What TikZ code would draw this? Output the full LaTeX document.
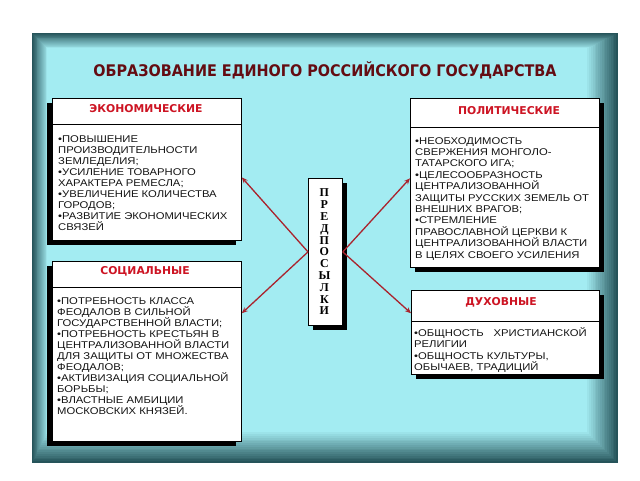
\documentclass[tikz,border=0pt]{standalone}
\usepackage{fontspec}
\setmainfont{Liberation Sans}
\newfontfamily\bodyf{Liberation Sans}[FakeStretch=1.15]
\newfontfamily\headf{DejaVu Sans}
\newfontfamily\titlef{DejaVu Sans}[FakeStretch=0.9]
\newfontfamily\serf{Liberation Serif}
\usetikzlibrary{shadows,calc,arrows.meta}
\definecolor{panelD}{RGB}{38,84,90}
\definecolor{panelL}{RGB}{163,236,242}
\definecolor{titleC}{RGB}{100,12,18}
\definecolor{headC}{RGB}{205,20,35}
\definecolor{arrC}{RGB}{170,35,45}
\definecolor{txtC}{RGB}{20,20,20}
\begin{document}
\begin{tikzpicture}[x=1pt,y=-1pt,
 box/.style={draw=black, line width=0.8pt, fill=white, inner sep=0pt, anchor=north west},
 shL/.style={drop shadow={shadow xshift=-5pt, shadow yshift=-5pt, opacity=1, fill=black}},
 shR/.style={drop shadow={shadow xshift=5pt, shadow yshift=-5pt, opacity=1, fill=black}},
 head/.style={font=\headf\bfseries\fontsize{10.8}{13}\selectfont, text=headC, inner sep=0pt},
 body/.style={font=\bodyf\fontsize{9.8}{11}\selectfont, text=txtC, align=left, anchor=north west, inner sep=0pt},
 arr/.style={draw=arrC, line width=1.3pt, -{Stealth[length=6pt,width=5pt]}},
 sepline/.style={draw=black, line width=0.6pt}]
\useasboundingbox (0,0) rectangle (640,480);
\fill[white] (0,0) rectangle (640,480);
% panel with darker edges
\foreach \i in {0,...,17} {
  \pgfmathsetmacro\t{100*\i/17}
  \fill[panelL!\t!panelD] (32+\i*0.9, 33+\i*0.9) rectangle (618-\i*1.8, 463-\i*1.8);
}
% title
\node[font=\titlef\bfseries\fontsize{16}{19}\selectfont, text=titleC] (title) at (325,70) {ОБРАЗОВАНИЕ ЕДИНОГО РОССИЙСКОГО ГОСУДАРСТВА};
% boxes
\node[box, shL, minimum width=189pt, minimum height=142pt] (econ) at (52,98) {};
\node[box, shL, minimum width=189pt, minimum height=180pt] (soc) at (52,261) {};
\node[box, shR, minimum width=189pt, minimum height=169pt] (pol) at (410,98) {};
\node[box, shR, minimum width=188pt, minimum height=84pt] (spir) at (411,290) {};
\node[box, shR, minimum width=34pt, minimum height=147pt] (pre) at (308,178) {};
% separators
\draw[sepline] ([yshift=-26pt]econ.north west) -- ([yshift=-26pt]econ.north east);
\draw[sepline] ([yshift=-26pt]soc.north west) -- ([yshift=-26pt]soc.north east);
\draw[sepline] ([yshift=-29pt]pol.north west) -- ([yshift=-29pt]pol.north east);
\draw[sepline] ([yshift=-31pt]spir.north west) -- ([yshift=-31pt]spir.north east);
% headers
\node[head] (econH) at (146,109) {ЭКОНОМИЧЕСКИЕ};
\node[head] (polH) at (509,111) {ПОЛИТИЧЕСКИЕ};
\node[head] (socH) at (145,271) {СОЦИАЛЬНЫЕ};
\node[head] (spirH) at (501,302) {ДУХОВНЫЕ};
% bodies
\node[body] (econB) at (58,135) {•ПОВЫШЕНИЕ\\ПРОИЗВОДИТЕЛЬНОСТИ\\ЗЕМЛЕДЕЛИЯ;\\•УСИЛЕНИЕ ТОВАРНОГО\\ХАРАКТЕРА РЕМЕСЛА;\\•УВЕЛИЧЕНИЕ КОЛИЧЕСТВА\\ГОРОДОВ;\\•РАЗВИТИЕ ЭКОНОМИЧЕСКИХ\\СВЯЗЕЙ};
\node[body, font=\bodyf\fontsize{9.8}{11.4}\selectfont] (polB) at (415,137) {•НЕОБХОДИМОСТЬ\\СВЕРЖЕНИЯ МОНГОЛО-\\ТАТАРСКОГО ИГА;\\•ЦЕЛЕСООБРАЗНОСТЬ\\ЦЕНТРАЛИЗОВАННОЙ\\ЗАЩИТЫ РУССКИХ ЗЕМЕЛЬ ОТ\\ВНЕШНИХ ВРАГОВ;\\•СТРЕМЛЕНИЕ\\ПРАВОСЛАВНОЙ ЦЕРКВИ К\\ЦЕНТРАЛИЗОВАННОЙ ВЛАСТИ\\В ЦЕЛЯХ СВОЕГО УСИЛЕНИЯ};
\node[body] (socB) at (57,297) {•ПОТРЕБНОСТЬ КЛАССА\\ФЕОДАЛОВ В СИЛЬНОЙ\\ГОСУДАРСТВЕННОЙ ВЛАСТИ;\\•ПОТРЕБНОСТЬ КРЕСТЬЯН В\\ЦЕНТРАЛИЗОВАННОЙ ВЛАСТИ\\ДЛЯ ЗАЩИТЫ ОТ МНОЖЕСТВА\\ФЕОДАЛОВ;\\•АКТИВИЗАЦИЯ СОЦИАЛЬНОЙ\\БОРЬБЫ;\\•ВЛАСТНЫЕ АМБИЦИИ\\МОСКОВСКИХ КНЯЗЕЙ.};
\node[body, font=\bodyf\fontsize{9.8}{11.5}\selectfont] (spirB) at (414,327) {•ОБЩНОСТЬ\quad ХРИСТИАНСКОЙ\\РЕЛИГИИ\\•ОБЩНОСТЬ КУЛЬТУРЫ,\\ОБЫЧАЕВ, ТРАДИЦИЙ};
% vertical word
\node[font=\serf\bfseries\fontsize{12}{11.8}\selectfont, align=center, inner sep=0pt] (preT) at ([xshift=-1pt]pre.center) {П\\Р\\Е\\Д\\П\\О\\С\\Ы\\Л\\К\\И};
% arrows
\draw[arr] (pre.west) -- ($(econ.north east)!0.556!(econ.south east)$);
\draw[arr] (pre.west) -- ($(soc.north east)!0.289!(soc.south east)$);
\draw[arr] (pre.east) -- ($(pol.north west)!0.473!(pol.south west)$);
\draw[arr] (pre.east) -- ($(spir.north west)!0.274!(spir.south west)$);
\end{tikzpicture}
\end{document}
